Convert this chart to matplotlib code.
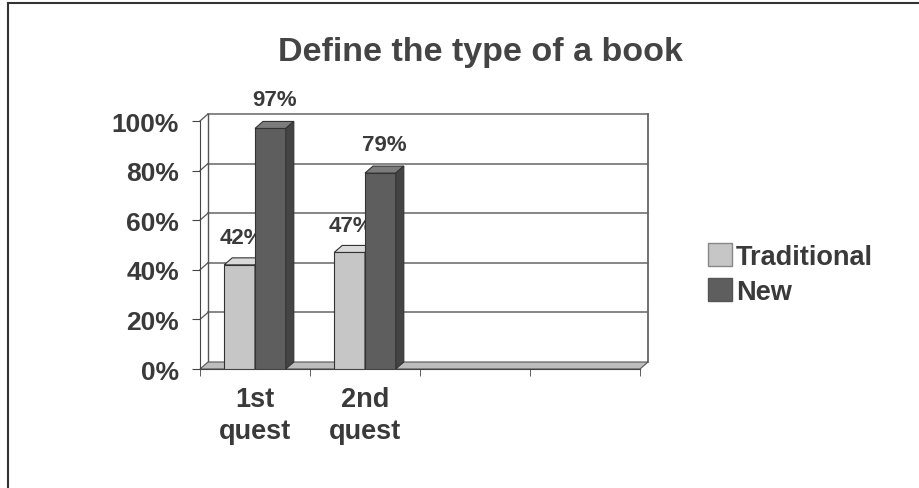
import matplotlib.pyplot as plt
import matplotlib.transforms as mtransforms
from matplotlib.patches import Polygon, Patch
from matplotlib.lines import Line2D

plt.rcParams['font.family'] = ['Liberation Sans', 'DejaVu Sans']
plt.rcParams['font.weight'] = 'bold'

title = "Define the type of a book"
categories = ["1st\nquest", "2nd\nquest"]
n_slots = 4
traditional = [0.42, 0.47]
new = [0.97, 0.79]
y_ticks = [0, 0.2, 0.4, 0.6, 0.8, 1.0]
y_ticklabels = ["0%", "20%", "40%", "60%", "80%", "100%"]

ink = "#3a3a3a"
W, H = 919, 489
fig = plt.figure(figsize=(W / 100, H / 100), dpi=100)

# front face of the plot box, in pixels
x0, x1, y0, y1 = 200, 640, 370, 122
ax = fig.add_axes([x0 / W, 1 - y0 / H, (x1 - x0) / W, (y0 - y1) / H])
ax.set_xlim(-0.5, n_slots - 0.5)
ax.set_ylim(0, 1)
ax.patch.set_visible(False)

# depth of the 3D effect
dpx, dpy = 8, 7
ddx = dpx * (n_slots) / (x1 - x0)
ddy = dpy / (y0 - y1)
back = ax.transData + mtransforms.ScaledTranslation(dpx / 100, dpy / 100, fig.dpi_scale_trans)

# back wall grid + side wall diagonals
for v in y_ticks[1:]:
    ax.plot([-0.5, n_slots - 0.5], [v, v], color="#666", lw=1.1, transform=back, clip_on=False, zorder=1)
    ax.plot([-0.5, -0.5 + ddx], [v, v + ddy], color="#555", lw=0.9, clip_on=False, zorder=1)
ax.plot([n_slots - 0.5, n_slots - 0.5], [0, 1], color="#666", lw=1.3, transform=back, clip_on=False, zorder=1)
ax.plot([-0.5, -0.5], [0, 1], color="#555", lw=1.0, transform=back, clip_on=False, zorder=1)

# floor
floor = Polygon([(-0.5, 0), (n_slots - 0.5, 0), (n_slots - 0.5 + ddx, ddy), (-0.5 + ddx, ddy)],
                closed=True, facecolor="#bdbdbd", edgecolor="#555", lw=0.8, clip_on=False, zorder=2)
ax.add_patch(floor)


def bar3d(x, v, w, front, top, side, z):
    ax.bar(x, v, width=w, color=front, edgecolor="#333", lw=0.8, zorder=z)
    l, r = x - w / 2, x + w / 2
    ax.add_patch(Polygon([(l, v), (r, v), (r + ddx, v + ddy), (l + ddx, v + ddy)], closed=True,
                         facecolor=top, edgecolor="#333", lw=0.8, clip_on=False, zorder=z))
    ax.add_patch(Polygon([(r, 0), (r, v), (r + ddx, v + ddy), (r + ddx, ddy)], closed=True,
                         facecolor=side, edgecolor="#333", lw=0.8, clip_on=False, zorder=z))


w = 0.28
for i, (t, n) in enumerate(zip(traditional, new)):
    bar3d(i - 0.14, t, w, "#c6c6c6", "#dadada", "#a4a4a4", 3)
    ax.annotate(f"{t:.0%}", (i - 0.16 + ddx / 2, t + ddy), xytext=(0, 7), textcoords="offset points",
                ha="center", va="bottom", fontsize=16, color=ink, zorder=3.5)
    bar3d(i + 0.14, n, w, "#5e5e5e", "#7c7c7c", "#444444", 4)
    ax.annotate(f"{n:.0%}", (i + 0.14 + ddx / 2, n + ddy), xytext=(0, 8), textcoords="offset points",
                ha="center", va="bottom", fontsize=16, color=ink, zorder=5)

# axes, ticks and labels
for s in ["top", "right"]:
    ax.spines[s].set_visible(False)
ax.spines["left"].set_color("#444")
ax.spines["bottom"].set_color("#444")
ax.set_yticks(y_ticks)
ax.set_yticklabels(y_ticklabels)
ax.tick_params(axis="y", direction="out", length=6, pad=9, labelsize=19, labelcolor=ink, color="#444")
ax.set_xticks(range(len(categories)))
ax.set_xticklabels(categories, linespacing=1.3)
ax.tick_params(axis="x", length=0, pad=12, labelsize=19.5, labelcolor=ink)
ax.set_xticks([k - 0.5 for k in range(n_slots + 1)], minor=True)
ax.tick_params(axis="x", which="minor", direction="out", length=5, color="#444")

fig.text(480 / W, 1 - 52 / H, title, ha="center", va="center", fontsize=24.5, color="#444")

handles = [Patch(facecolor="#c6c6c6", edgecolor="#888"), Patch(facecolor="#5e5e5e", edgecolor="#555")]
fig.legend(handles, ["Traditional", "New"], loc="center left", bbox_to_anchor=(694 / W, 1 - 275 / H),
           frameon=False, fontsize=19.5, labelcolor=ink, handlelength=0.9, handleheight=0.9,
           handletextpad=0.15, labelspacing=0.3, borderpad=0)

# page border
fig.add_artist(Line2D([8 / W, 1], [1 - 4 / H, 1 - 4 / H], color="#333", lw=1.5))
fig.add_artist(Line2D([8 / W, 8 / W], [0, 1 - 4 / H], color="#333", lw=1.5))

fig.savefig("out.png", dpi=100)
